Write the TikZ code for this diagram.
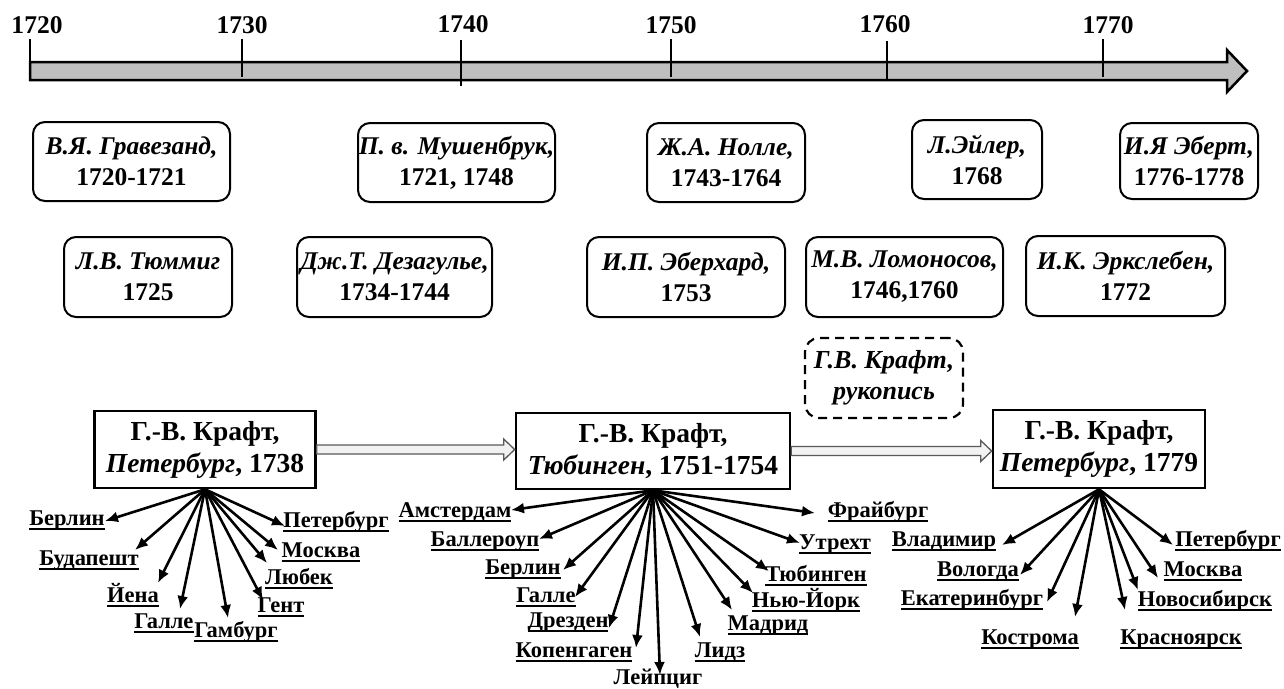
\documentclass[tikz,border=0pt]{standalone}
\usepackage{fontspec}
\setmainfont{Liberation Serif}
\usetikzlibrary{arrows.meta,calc}
\newcommand\cityul[1]{\setbox0=\hbox{#1}\leavevmode\rlap{\raisebox{-4.5pt}{\rule{\wd0}{1.8pt}}}\box0}
\begin{document}
\begin{tikzpicture}[x=1pt,y=-1pt,
  ybox/.style={draw,line width=2pt,rounded corners=12pt,align=center,inner sep=0pt,
    font=\fontsize{25.5}{31}\selectfont\bfseries},
  kbox/.style={draw,line width=2.6pt,align=center,inner sep=0pt,fill=white,
    font=\fontsize{27.5}{32}\selectfont\bfseries},
  dbox/.style={draw,line width=2.2pt,dash pattern=on 9pt off 6pt,rounded corners=14pt,
    align=center,inner sep=0pt,font=\fontsize{26}{31}\selectfont\bfseries\itshape},
  city/.style={anchor=base,inner sep=0pt,font=\fontsize{22.5}{25}\selectfont\bfseries},
  fan/.style={line width=2.6pt,-{Latex[length=13pt,width=11pt]}},
  year/.style={anchor=base,inner sep=0pt,font=\fontsize{25.5}{28}\selectfont\bfseries},
  tick/.style={line width=2.5pt},
  bar/.style={draw,line width=2.5pt,fill=black!25,line join=miter},
  blockarr/.style={draw=black!65,line width=1.3pt,fill=black!5,line join=miter}]
\useasboundingbox (0,0) rectangle (1284,688);

% ---- timeline ----
\draw[bar] (30,62) -- (1227,62) -- (1227,50) -- (1247,71) -- (1227,92) -- (1227,80) -- (30,80) -- cycle;
\draw[tick] (30,39) -- (30,80);
\draw[tick] (242,39) -- (242,77);
\draw[tick] (461,40) -- (461,86);
\draw[tick] (671,39) -- (671,77);
\draw[tick] (887,41) -- (887,80);
\draw[tick] (1103,39) -- (1103,77);
\node[year] (y1720) at (37,33) {1720};
\node[year] (y1730) at (242,33) {1730};
\node[year] (y1740) at (463,32) {1740};
\node[year] (y1750) at (671,33) {1750};
\node[year] (y1760) at (885,32) {1760};
\node[year] (y1770) at (1108,33) {1770};

% ---- upper boxes ----
\node[ybox,minimum width=197pt,minimum height=79pt] (b1) at (131.5,161.5) {\itshape В.Я. Гравезанд,\\1720-1721};
\node[ybox,minimum width=197pt,minimum height=79pt] (b2) at (456.5,162.5) {\itshape П. в. Мушенбрук,\\1721, 1748};
\node[ybox,minimum width=158pt,minimum height=79pt] (b3) at (726,162.5) {\itshape Ж.А. Нолле,\\1743-1764};
\node[ybox,minimum width=130pt,minimum height=79pt] (b4) at (977,159.5) {\itshape Л.Эйлер,\\1768};
\node[ybox,minimum width=138pt,minimum height=76pt] (b5) at (1189,161) {\itshape И.Я Эберт,\\1776-1778};
\node[ybox,minimum width=168pt,minimum height=80pt] (b6) at (148,277) {\itshape Л.В. Тюммиг\\1725};
\node[ybox,minimum width=195pt,minimum height=80pt] (b7) at (394.5,277) {\itshape Дж.Т. Дезагулье,\\1734-1744};
\node[ybox,minimum width=198pt,minimum height=80pt] (b8) at (686,277) {\itshape И.П. Эберхард,\\1753};
\node[ybox,minimum width=197pt,minimum height=80pt] (b9) at (904.5,277) {\itshape М.В. Ломоносов,\\1746,1760};
\node[ybox,minimum width=199pt,minimum height=80pt] (b10) at (1125.5,276) {\itshape И.К. Эрк\-слебен,\\1772};

% ---- Kraft boxes ----
\node[kbox,minimum width=221pt,minimum height=77pt] (k1) at (205,449.5) {Г.-В. Крафт,\\\textit{Петербург}, 1738};
\node[kbox,minimum width=274pt,minimum height=76pt] (k2) at (653,451) {Г.-В. Крафт,\\\textit{Тюбинген}, 1751-1754};
\node[kbox,minimum width=212pt,minimum height=78pt] (k3) at (1099,449) {Г.-В. Крафт,\\\textit{Петербург}, 1779};
\node[dbox,minimum width=158pt,minimum height=80pt] (ms) at (884,378) {Г.В. Крафт,\\рукопись};

\draw[blockarr] let \p1=(k1.east), \p2=(k2.west) in
  (\x1,{\y1+4.5pt}) -- ({\x2-11pt},{\y1+4.5pt}) -- ({\x2-11pt},{\y1+10.5pt}) -- (\x2,\y1)
  -- ({\x2-11pt},{\y1-10.5pt}) -- ({\x2-11pt},{\y1-4.5pt}) -- (\x1,{\y1-4.5pt}) -- cycle;
\draw[blockarr] let \p1=(k2.east), \p2=(k3.west) in
  (\x1,{\y1+4.5pt}) -- ({\x2-11pt},{\y1+4.5pt}) -- ({\x2-11pt},{\y1+10.5pt}) -- (\x2,\y1)
  -- ({\x2-11pt},{\y1-10.5pt}) -- ({\x2-11pt},{\y1-4.5pt}) -- (\x1,{\y1-4.5pt}) -- cycle;

% ---- fan 1 ----
\node[city] (a1) at (67,525) {\cityul{Берлин}};
\node[city] (a2) at (89,565) {\cityul{Будапешт}};
\node[city] (a3) at (133,602) {\cityul{Йена}};
\node[city] (a4) at (164,628) {\cityul{Галле}};
\node[city] (a5) at (236,637) {\cityul{Гамбург}};
\node[city] (a6) at (281,612) {\cityul{Гент}};
\node[city] (a7) at (299,584) {\cityul{Любек}};
\node[city] (a8) at (321,557) {\cityul{Москва}};
\node[city] (a9) at (336,527) {\cityul{Петербург}};
\draw[fan] (k1.south) -- ($(a1.base)+(38,-4)$);
\draw[fan] (k1.south) -- ($(a2.base)+(46,-15)$);
\draw[fan] (k1.south) -- ($(a3.base)+(25,-19)$);
\draw[fan] (k1.south) -- ($(a4.base)+(16,-19)$);
\draw[fan] (k1.south) -- ($(a5.base)+(-8,-19)$);
\draw[fan] (k1.south) -- ($(a6.base)+(-18,-12)$);
\draw[fan] (k1.south) -- ($(a7.base)+(-32,-21)$);
\draw[fan] (k1.south) -- ($(a8.base)+(-43,-7)$);
\draw[fan] (k1.south) -- ($(a9.base)+(-51,-1)$);

% ---- fan 2 ----
\node[city] (c1) at (455,517) {\cityul{Амстердам}};
\node[city] (c2) at (485,546) {\cityul{Баллероуп}};
\node[city] (c3) at (523,574) {\cityul{Берлин}};
\node[city] (c4) at (546,602) {\cityul{Галле}};
\node[city] (c5) at (568,627) {\cityul{Дрезден}};
\node[city] (c6) at (574,657) {\cityul{Копенгаген}};
\node[city] (c7) at (658,684) {Лейпциг};
\node[city] (c8) at (720,657) {\cityul{Лидз}};
\node[city] (c9) at (768,630) {\cityul{Мадрид}};
\node[city] (c10) at (806,607) {\cityul{Нью-Йорк}};
\node[city] (c11) at (816,581) {\cityul{Тюбинген}};
\node[city] (c12) at (835,549) {\cityul{Утрехт}};
\node[city] (c13) at (878,517) {\cityul{Фрайбург}};
\draw[fan] (k2.south) -- ($(c1.base)+(56,-7)$);
\draw[fan] (k2.south) -- ($(c2.base)+(54,-7)$);
\draw[fan] (k2.south) -- ($(c3.base)+(40,-4)$);
\draw[fan] (k2.south) -- ($(c4.base)+(29,-5)$);
\draw[fan] (k2.south) -- ($(c5.base)+(41,1)$);
\draw[fan] (k2.south) -- ($(c6.base)+(62,-9)$);
\draw[fan] (k2.south) -- ($(c7.base)+(2,-9)$);
\draw[fan] (k2.south) -- ($(c8.base)+(-20,-20)$);
\draw[fan] (k2.south) -- ($(c9.base)+(-36,-20)$);
\draw[fan] (k2.south) -- ($(c10.base)+(-53,-14)$);
\draw[fan] (k2.south) -- ($(c11.base)+(-47,-10)$);
\draw[fan] (k2.south) -- ($(c12.base)+(-35,-6)$);
\draw[fan] (k2.south) -- ($(c13.base)+(-63,-4)$);

% ---- fan 3 ----
\node[city] (d1) at (944,546) {\cityul{Владимир}};
\node[city] (d2) at (978,576) {\cityul{Вологда}};
\node[city] (d3) at (972,605) {\cityul{Екатеринбург}};
\node[city] (d4) at (1030,644) {\cityul{Кострома}};
\node[city] (d5) at (1181,644) {\cityul{Красноярск}};
\node[city] (d6) at (1205,606) {\cityul{Новосибирск}};
\node[city] (d7) at (1203,576) {\cityul{Москва}};
\node[city] (d8) at (1228,546) {\cityul{Петербург}};
\draw[fan] (k3.south) -- ($(d1.base)+(58,-1)$);
\draw[fan] (k3.south) -- ($(d2.base)+(42,-1)$);
\draw[fan] (k3.south) -- ($(d3.base)+(75,-3)$);
\draw[fan] (k3.south) -- ($(d4.base)+(45,-27)$);
\draw[fan] (k3.south) -- ($(d5.base)+(-56,-34)$);
\draw[fan] (k3.south) -- ($(d6.base)+(-67,-16)$);
\draw[fan] (k3.south) -- ($(d7.base)+(-45,2)$);
\draw[fan] (k3.south) -- ($(d8.base)+(-55,-1)$);
\end{tikzpicture}
\end{document}
